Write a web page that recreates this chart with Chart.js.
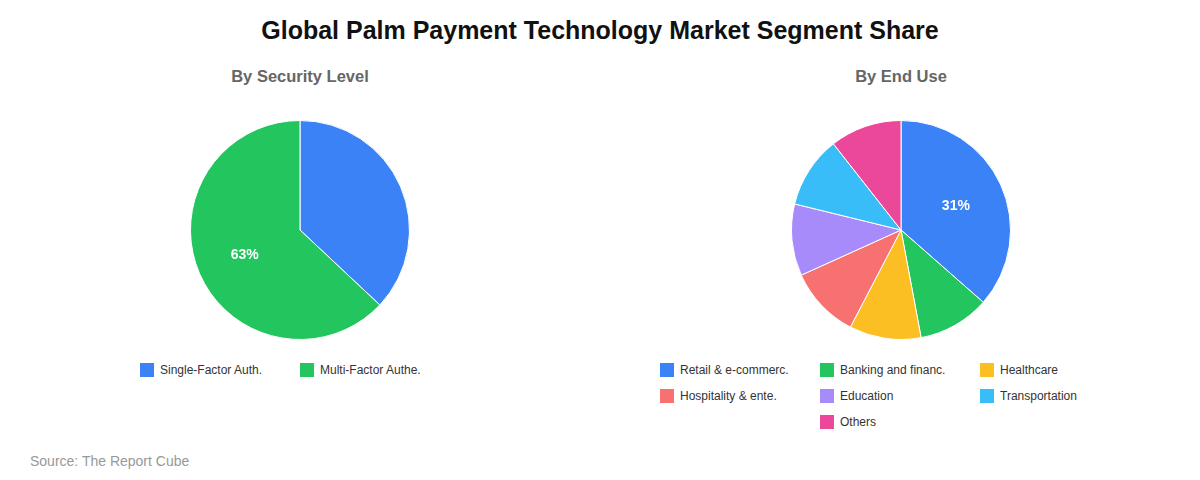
<!DOCTYPE html>
<html>
<head>
<meta charset="utf-8">
<script src="https://cdn.jsdelivr.net/npm/chart.js@4"></script>
<style>
body { margin:0; background:#fff; font-family:"Liberation Sans", Arial, sans-serif; }
#wrap { position:relative; width:1200px; height:480px; overflow:hidden; }
.titulo { position:absolute; top:16px; left:0; width:1200px; text-align:center; font-size:25px; font-weight:bold; color:#111; }
.sub { position:absolute; top:67px; width:600px; text-align:center; font-size:16.5px; font-weight:bold; color:#666; }
.caixa { position:absolute; top:120px; width:600px; height:220px; }
.legenda { position:absolute; top:363px; width:600px; display:flex; flex-wrap:wrap; justify-content:center; }
.item { width:160px; height:26px; display:flex; align-items:flex-start; font-size:12px; color:#333; }
.item span.q { width:14px; height:14px; margin-right:6px; flex:none; }
.item span.t { line-height:16px; margin-top:-1px; }
.fonte { position:absolute; left:30px; top:453px; font-size:14px; color:#999; }
</style>
</head>
<body>
<div id="wrap">
  <div class="titulo">Global Palm Payment Technology Market Segment Share</div>
  <div class="sub" style="left:0">By Security Level</div>
  <div class="sub" style="left:601px">By End Use</div>
  <div class="caixa" style="left:0"><canvas id="pie_seguranca"></canvas></div>
  <div class="caixa" style="left:601px"><canvas id="pie_uso"></canvas></div>
  <div class="legenda" id="leg_seguranca" style="left:0"></div>
  <div class="legenda" id="leg_uso" style="left:600px"></div>
  <div class="fonte">Source: The Report Cube</div>
</div>
<script>
// dados
var seguranca_labels = ['Single-Factor Auth.', 'Multi-Factor Authe.']
var seguranca_valores = [37, 63]
var seguranca_cores = ['#3b82f6', '#22c55e']

var uso_labels = ['Retail & e-commerc.', 'Banking and financ.', 'Healthcare', 'Hospitality & ente.', 'Education', 'Transportation', 'Others']
var uso_valores = [31, 9, 9, 9, 9, 9, 9]
var uso_cores = ['#3b82f6', '#22c55e', '#fbbf24', '#f87171', '#a78bfa', '#38bdf8', '#ec4899']

// rotulo so na maior fatia
var rotuloMaior = {
    id: 'rotuloMaior',
    afterDatasetsDraw: function (chart) {
        var ds = chart.data.datasets[0]
        var maior = 0
        for (var n = 1; n < ds.data.length; n++) {
            if (ds.data[n] > ds.data[maior]) maior = n
        }
        var arco = chart.getDatasetMeta(0).data[maior]
        var meio = (arco.startAngle + arco.endAngle) / 2
        var r = arco.outerRadius * 0.55
        var ctx = chart.ctx
        ctx.save()
        ctx.fillStyle = '#fff'
        ctx.font = 'bold 14px "Liberation Sans", Arial, sans-serif'
        ctx.textAlign = 'center'
        ctx.textBaseline = 'middle'
        ctx.fillText(ds.data[maior] + '%', arco.x + Math.cos(meio) * r, arco.y + Math.sin(meio) * r + 1)
        ctx.restore()
    }
}

function criarPizza(idCanvas, labels, valores, cores) {
    var contexto = document.getElementById(idCanvas).getContext('2d')
    return new Chart(contexto, {
        type: 'pie',
        data: {
            labels: labels,
            datasets: [{
                data: valores,
                backgroundColor: cores,
                borderColor: '#fff',
                borderWidth: 1
            }]
        },
        options: {
            responsive: true,
            maintainAspectRatio: false,
            animation: false,
            layout: { padding: 0 },
            plugins: {
                legend: { display: false },
                tooltip: { enabled: false }
            }
        },
        plugins: [rotuloMaior]
    })
}

function criarLegenda(idDiv, labels, cores) {
    var div = document.getElementById(idDiv)
    for (var n = 0; n < labels.length; n++) {
        var item = document.createElement('div')
        item.className = 'item'
        item.innerHTML = '<span class="q" style="background:' + cores[n] + '"></span><span class="t"></span>'
        item.querySelector('.t').textContent = labels[n]
        div.appendChild(item)
    }
}

criarPizza('pie_seguranca', seguranca_labels, seguranca_valores, seguranca_cores)
criarPizza('pie_uso', uso_labels, uso_valores, uso_cores)
criarLegenda('leg_seguranca', seguranca_labels, seguranca_cores)
criarLegenda('leg_uso', uso_labels, uso_cores)
</script>
</body>
</html>
